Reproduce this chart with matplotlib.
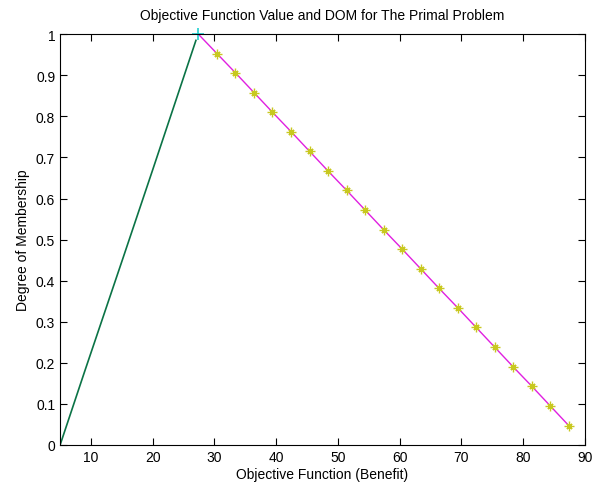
import matplotlib
matplotlib.use('Agg')
import matplotlib.pyplot as plt

plt.rcParams['font.family'] = ['Liberation Sans', 'DejaVu Sans']

# rising side of the membership function
rise_x = [5, 9, 13.5, 15.3, 20, 24, 27.0]
rise_y = [0, 0.18, 0.38, 0.46, 0.67, 0.85, 0.985]

# peak point
peak_x = [27.4]
peak_y = [1.0]

# falling side, sampled points (stars)
fall_x = [27.4, 30.4, 33.4, 36.4, 39.4, 42.4, 45.4, 48.4, 51.4, 54.4, 57.4,
          60.4, 63.4, 66.4, 69.4, 72.4, 75.4, 78.4, 81.4, 84.4, 87.4]
fall_y = [1.0, 0.953, 0.906, 0.858, 0.81, 0.763, 0.715, 0.667, 0.62, 0.572, 0.524,
          0.477, 0.429, 0.381, 0.334, 0.286, 0.238, 0.19, 0.143, 0.095, 0.047]

fig = plt.figure(figsize=(5.95, 4.89), dpi=100)
ax = fig.add_axes([0.101, 0.088, 0.882, 0.840])

ax.plot(rise_x, rise_y, color='#0b7346', lw=1.2)
ax.plot(fall_x, fall_y, color='#e020e0', lw=1.0)
ax.plot(fall_x[1:], fall_y[1:], ls='none', marker=(4, 2, 45), ms=5, mew=1.1, color='#c8c820')
ax.plot(fall_x[1:], fall_y[1:], ls='none', marker='+', ms=7.5, mew=1.0, color='#c8c820')
ax.plot(peak_x, peak_y, ls='none', marker='+', ms=8, mew=1.2, color='#20d0d0', clip_on=False)

ax.set_xlim(5, 90)
ax.set_ylim(0, 1)
ax.set_xticks([10, 20, 30, 40, 50, 60, 70, 80, 90])
ax.set_yticks([0, 0.1, 0.2, 0.3, 0.4, 0.5, 0.6, 0.7, 0.8, 0.9, 1])
ax.set_yticklabels(['0', '0.1', '0.2', '0.3', '0.4', '0.5', '0.6', '0.7', '0.8', '0.9', '1'])
ax.tick_params(direction='in', top=True, right=True, length=5, labelsize=10)

ax.set_xlabel('Objective Function (Benefit)', fontsize=10, labelpad=2)
ax.set_ylabel('Degree of Membership', fontsize=10, labelpad=4)
ax.set_title('Objective Function Value and DOM for The Primal Problem', fontsize=10, pad=11)

fig.savefig('out.png', dpi=100)
